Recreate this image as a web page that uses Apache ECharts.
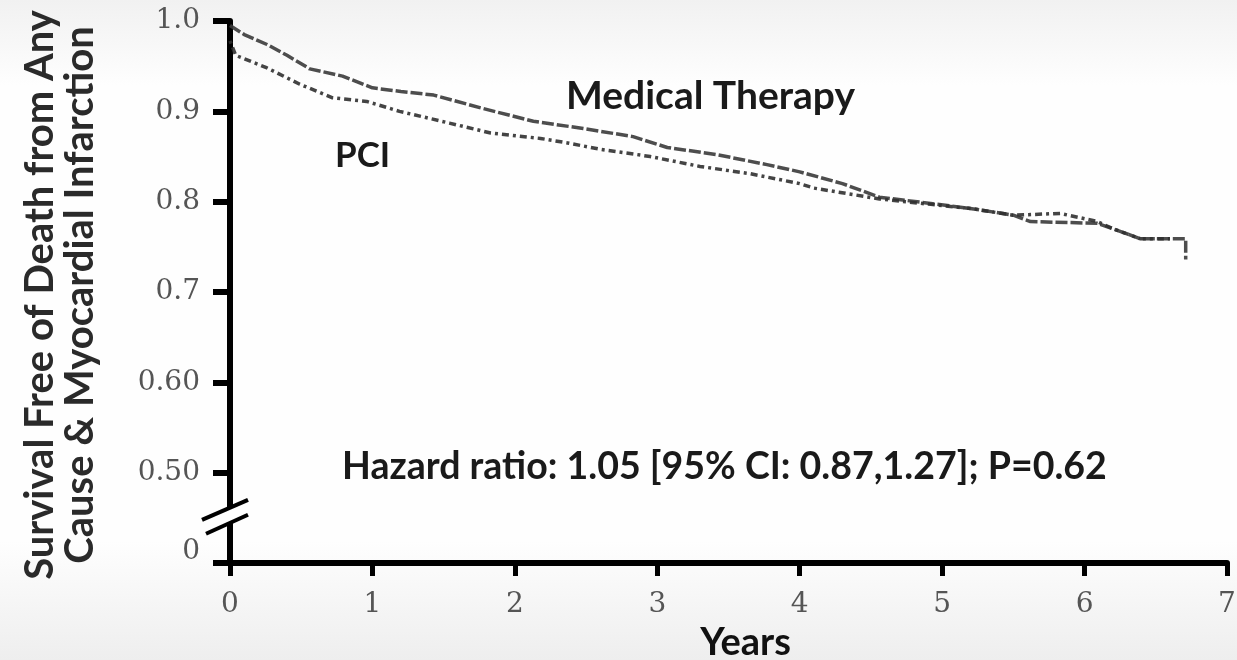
<!DOCTYPE html>
<html>
<head>
<meta charset="utf-8">
<script src="https://cdn.jsdelivr.net/npm/echarts@6/dist/echarts.min.js"></script>
<style>
html,body{margin:0;padding:0;}
#chart{width:1237px;height:660px;}
</style>
</head>
<body>
<div id="chart"></div>
<script>
// ---- data ----
const mtYears = [0, 0.1, 0.26, 0.4, 0.56, 0.79, 1.0, 1.2, 1.43, 1.78, 2.13, 2.48, 2.83, 3.07, 3.42, 3.77, 4.0, 4.3, 4.56, 4.92, 5.22, 5.5, 5.62, 6.09, 6.2, 6.39, 6.71, 6.71];
const mtSurv  = [0.995, 0.985, 0.974, 0.962, 0.947, 0.939, 0.926, 0.922, 0.918, 0.903, 0.889, 0.881, 0.872, 0.86, 0.852, 0.841, 0.833, 0.82, 0.805, 0.798, 0.792, 0.785, 0.778, 0.776, 0.77, 0.759, 0.759, 0.736];
const pciYears = [0, 0.04, 0.26, 0.49, 0.72, 0.96, 1.19, 1.54, 1.83, 2.18, 2.37, 2.6, 2.95, 3.3, 3.65, 4.0, 4.1, 4.56, 4.92, 5.22, 5.5, 5.83, 6.09, 6.2, 6.39, 6.6];
const pciSurv  = [0.978, 0.962, 0.948, 0.93, 0.915, 0.911, 0.9, 0.887, 0.876, 0.87, 0.865, 0.858, 0.85, 0.839, 0.831, 0.82, 0.815, 0.803, 0.797, 0.792, 0.785, 0.787, 0.778, 0.77, 0.759, 0.759];
const xTickLabels = ['0', '1', '2', '3', '4', '5', '6', '7'];
const yTickValues = [0.4, 0.5, 0.6, 0.7, 0.8, 0.9, 1.0];
const yTickLabels = ['0', '0.50', '0.60', '0.7', '0.8', '0.9', '1.0'];
const seriesNames = ['Medical Therapy', 'PCI'];
const yTitle = ['Survival Free of Death from Any', 'Cause & Myocardial Infarction'];
const xTitle = 'Years';
const hazardText = 'Hazard ratio: 1.05 [95% CI: 0.87,1.27]; P=0.62';

const mtData = mtYears.map((x, i) => [x, mtSurv[i]]);
const pciData = pciYears.map((x, i) => [x, pciSurv[i]]);

const chart = echarts.init(document.getElementById('chart'));
const boldFont = 'Lato';
const tickFont = {color: '#555', fontFamily: 'DejaVu Serif', fontSize: 28};
const option = {
  animation: false,
  backgroundColor: {
    type: 'linear', x: 0, y: 0, x2: 0, y2: 1,
    colorStops: [
      {offset: 0, color: '#f1f1f1'},
      {offset: 0.13, color: '#fefefe'},
      {offset: 0.82, color: '#fefefe'},
      {offset: 1, color: '#eeeeee'}
    ]
  },
  grid: {left: 230, right: 10, top: 21, bottom: 97, containLabel: false, outerBoundsMode: 'none'},
  xAxis: {
    type: 'value', min: 0, max: 7, interval: 1,
    axisLine: {lineStyle: {color: '#000', width: 6}},
    axisTick: {length: 13, lineStyle: {color: '#000', width: 5}},
    splitLine: {show: false},
    axisLabel: Object.assign({margin: 28, formatter: v => xTickLabels[Math.round(v)]}, tickFont),
    name: xTitle, nameLocation: 'middle', nameGap: 57,
    nameTextStyle: {fontFamily: boldFont, fontWeight: 'bold', fontSize: 38, color: '#111', padding: [0, 0, 0, 34]}
  },
  yAxis: {
    type: 'value', min: 0.4, max: 1.0, interval: 0.1,
    axisLine: {lineStyle: {color: '#000', width: 6}},
    axisTick: {length: 17, lineStyle: {color: '#000', width: 6}},
    splitLine: {show: false},
    axisLabel: Object.assign({
      margin: 30,
      formatter: function (v) {
        const i = yTickValues.findIndex(t => Math.abs(t - v) < 1e-6);
        const s = i >= 0 ? yTickLabels[i] : '';
        return i === 0 ? '{z|' + s + '}' : s;
      },
      rich: {z: Object.assign({padding: [0, 0, 22, 0]}, tickFont)}
    }, tickFont)
  },
  series: [
    {
      name: seriesNames[0], type: 'line', data: mtData, showSymbol: false,
      lineStyle: {color: '#3a3a3a', width: 3.5, type: [12, 3], opacity: 0.9}
    },
    {
      name: seriesNames[1], type: 'line', data: pciData, showSymbol: false,
      lineStyle: {color: '#303030', width: 3.5, type: [3, 4, 7, 4], opacity: 0.9}
    }
  ]
};
chart.setOption(option);

// annotation text and axis-break symbol
const bp = chart.convertToPixel({gridIndex: 0}, [0, 0.46]);
const bx = bp[0], by = bp[1];
chart.setOption({
  graphic: [
    {type: 'text', x: 60, y: 295, rotation: Math.PI / 2,
     style: {text: yTitle.join('\n'), fill: '#2a2a2a', font: 'bold 40px Lato', lineHeight: 40, align: 'center', verticalAlign: 'middle'}},
    {type: 'text', x: 566, y: 96,
     style: {text: seriesNames[0], fill: '#1a1a1a', font: 'bold 39px Lato', align: 'left', verticalAlign: 'middle'}},
    {type: 'text', x: 335, y: 156,
     style: {text: seriesNames[1], fill: '#1a1a1a', font: 'bold 35px Lato', align: 'left', verticalAlign: 'middle'}},
    {type: 'text', x: 342, y: 467,
     style: {text: hazardText, fill: '#1a1a1a', font: 'bold 37.5px Lato', align: 'left', verticalAlign: 'middle'}},
    {type: 'polygon', shape: {points: [[bx - 26, by + 12], [bx + 18, by - 8], [bx + 18, by + 5], [bx - 26, by + 25]]},
     style: {fill: '#fefefe'}, z: 100},
    {type: 'line', shape: {x1: bx - 28, y1: by + 11, x2: bx + 18, y2: by - 9}, style: {stroke: '#000', lineWidth: 4}, z: 101},
    {type: 'line', shape: {x1: bx - 24, y1: by + 25, x2: bx + 18, y2: by + 6}, style: {stroke: '#000', lineWidth: 4}, z: 101}
  ]
});
</script>
</body>
</html>
